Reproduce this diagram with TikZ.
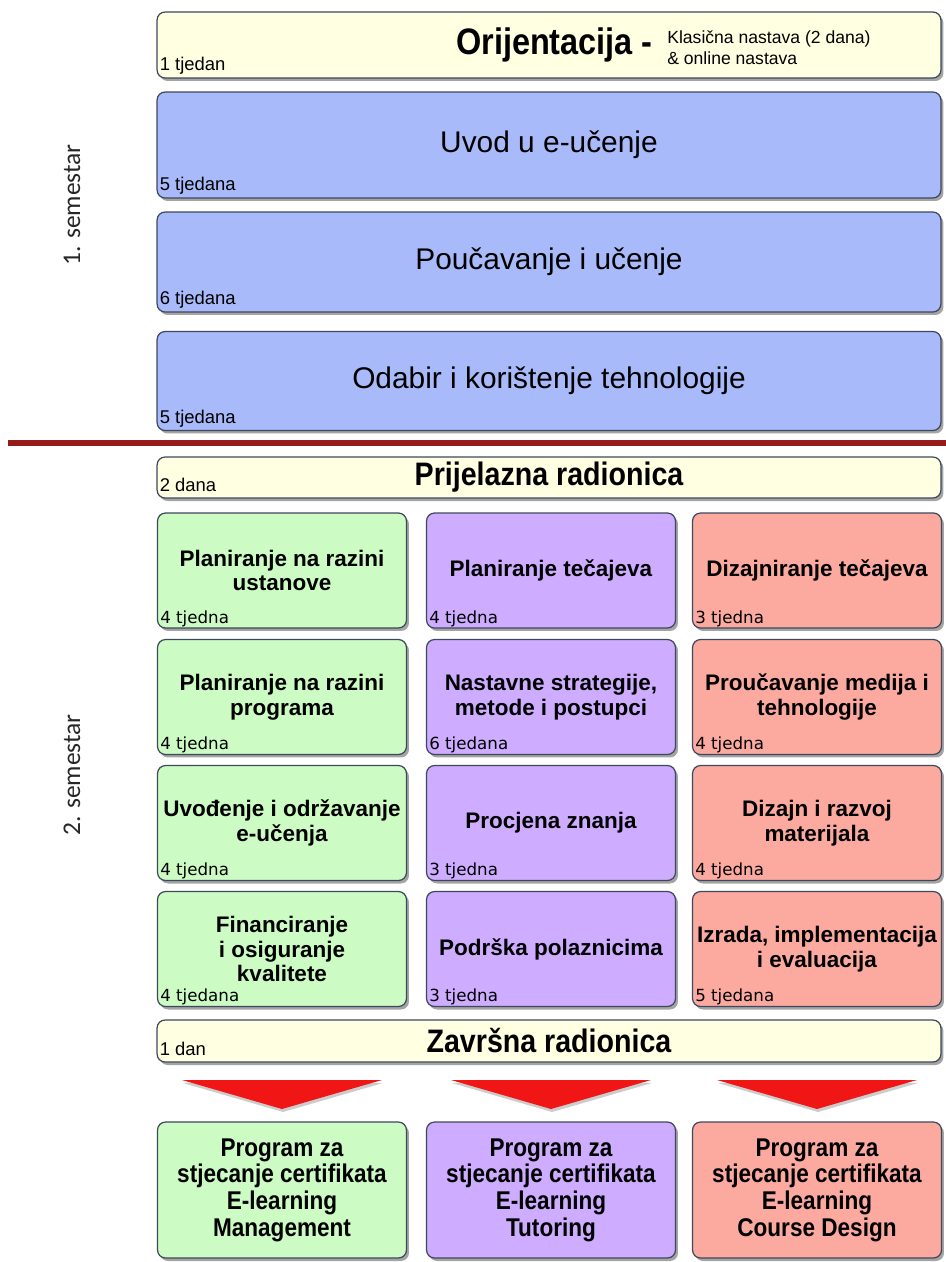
\documentclass[tikz,border=0pt]{standalone}
\usepackage{fontspec}
\setmainfont{Liberation Sans}
\newfontfamily\narrowfont[FakeStretch=0.88]{Liberation Sans}
\newfontfamily\tagfont{DejaVu Sans}
\newfontfamily\semfont{Carlito}
\usetikzlibrary{shadows}

\definecolor{cream}{RGB}{255,255,226}
\definecolor{bluebox}{RGB}{168,186,250}
\definecolor{greenbox}{RGB}{204,252,196}
\definecolor{violetbox}{RGB}{206,172,255}
\definecolor{salmonbox}{RGB}{252,170,160}
\definecolor{edge}{RGB}{62,72,92}
\definecolor{divider}{RGB}{150,28,28}
\definecolor{arrowred}{RGB}{240,22,22}

\begin{document}
\begin{tikzpicture}[x=0.02cm, y=-0.02cm]
    \useasboundingbox (0,0) rectangle (946,1262);
    \tikzstyle{box}=[draw=edge, line width=0.7pt, rounded corners=0.16cm, inner sep=2pt,
        drop shadow={shadow xshift=0.05cm, shadow yshift=-0.06cm, fill=black!65, opacity=0.55}]
    \tikzstyle{wide}=[style=box, minimum width=15.68cm, font=\fontsize{17}{20}\selectfont]
    \tikzstyle{cell}=[style=box, minimum width=4.98cm, minimum height=2.3cm, align=center,
        font=\bfseries\fontsize{12.8}{14}\selectfont]
    \tikzstyle{result}=[style=box, minimum width=4.98cm, minimum height=2.72cm, align=center,
        font=\narrowfont\bfseries\fontsize{14.6}{15.2}\selectfont]
    \tikzstyle{head}=[font=\narrowfont\bfseries\fontsize{18.5}{20}\selectfont]
    \tikzstyle{weeks}=[anchor=base west, inner sep=0pt, font=\fontsize{10.5}{12}\selectfont]
    \tikzstyle{cell weeks}=[anchor=base west, inner sep=0pt, font=\tagfont\fontsize{9.5}{11}\selectfont]
    \tikzstyle{semester}=[rotate=90, text=black!85, font=\semfont\fontsize{14.5}{16}\selectfont]
    \tikzstyle{divider line}=[draw=divider, line width=3.2pt]
    \tikzstyle{down arrow}=[fill=arrowred,
        drop shadow={shadow xshift=0.02cm, shadow yshift=-0.06cm, fill=black!50, opacity=0.4}]

    % 1. semestar
    \node [style=wide, fill=cream, minimum height=1.32cm] (1) at (549, 45) {};
    \node [style=wide, fill=bluebox, minimum height=2.12cm] (2) at (549, 145) {Uvod u e-učenje};
    \node [style=wide, fill=bluebox, minimum height=2.0cm] (3) at (549, 262) {Poučavanje i učenje};
    \node [style=wide, fill=bluebox, minimum height=1.98cm] (4) at (549, 381) {Odabir i korištenje tehnologije};

    \node [style=head, font=\narrowfont\bfseries\fontsize{21}{23}\selectfont, anchor=base east] (1t) at (659, 54) {Orijentacija -};
    \node [anchor=west, align=left, inner sep=0pt, font=\fontsize{10}{11}\selectfont] (1n) at (667, 48)
        {Klasična nastava (2 dana)\\[1pt]\& online nastava};

    \node [style=weeks] (1w) at ([xshift=0.06cm, yshift=0.16cm]1.south west) {1 tjedan};
    \node [style=weeks] (2w) at ([xshift=0.06cm, yshift=0.16cm]2.south west) {5 tjedana};
    \node [style=weeks] (3w) at ([xshift=0.06cm, yshift=0.16cm]3.south west) {6 tjedana};
    \node [style=weeks] (4w) at ([xshift=0.06cm, yshift=0.16cm]4.south west) {5 tjedana};

    \coordinate (l1) at (8, 443);
    \coordinate (l2) at (946, 443);
    \draw [style=divider line] (l1) -- (l2);

    % 2. semestar
    \node [style=wide, style=head, fill=cream, minimum height=0.82cm] (5) at (549, 477.5) {Prijelazna radionica};
    \node [style=weeks] (5w) at ([xshift=0.06cm, yshift=0.14cm]5.south west) {2 dana};

    \node [style=cell, fill=greenbox] (6) at (282, 570.5) {Planiranje na razini\\ustanove};
    \node [style=cell, fill=greenbox] (7) at (282, 697) {Planiranje na razini\\programa};
    \node [style=cell, fill=greenbox] (8) at (282, 823) {Uvođenje i održavanje\\e-učenja};
    \node [style=cell, fill=greenbox] (9) at (282, 949) {Financiranje\\i osiguranje\\kvalitete};

    \node [style=cell, fill=violetbox] (10) at (551, 570.5) {Planiranje tečajeva};
    \node [style=cell, fill=violetbox] (11) at (551, 697) {Nastavne strategije,\\metode i postupci};
    \node [style=cell, fill=violetbox] (12) at (551, 823) {Procjena znanja};
    \node [style=cell, fill=violetbox] (13) at (551, 949) {Podrška polaznicima};

    \node [style=cell, fill=salmonbox] (14) at (817, 570.5) {Dizajniranje tečajeva};
    \node [style=cell, fill=salmonbox] (15) at (817, 697) {Proučavanje medija i\\tehnologije};
    \node [style=cell, fill=salmonbox] (16) at (817, 823) {Dizajn i razvoj\\materijala};
    \node [style=cell, fill=salmonbox] (17) at (817, 949) {Izrada, implementacija\\i evaluacija};

    \foreach \n/\t in {6/4 tjedna, 7/4 tjedna, 8/4 tjedna, 9/4 tjedana,
                       10/4 tjedna, 11/6 tjedana, 12/3 tjedna, 13/3 tjedna,
                       14/3 tjedna, 15/4 tjedna, 16/4 tjedna, 17/5 tjedana}
        \node [style=cell weeks] (\n w) at ([xshift=0.06cm, yshift=0.11cm]\n.south west) {\t};

    \node [style=wide, style=head, fill=cream, minimum height=0.84cm] (18) at (549, 1041) {Završna radionica};
    \node [style=weeks] (18w) at ([xshift=0.06cm, yshift=0.14cm]18.south west) {1 dan};

    \foreach \c in {282, 551, 817}
        \fill [style=down arrow] ({\c-100}, 1080) -- ({\c+100}, 1080) -- (\c, 1109) -- cycle;

    \node [style=result, fill=greenbox] (19) at (282, 1190) {Program za\\stjecanje certifikata\\E-learning\\Management};
    \node [style=result, fill=violetbox] (20) at (551, 1190) {Program za\\stjecanje certifikata\\E-learning\\Tutoring};
    \node [style=result, fill=salmonbox] (21) at (817, 1190) {Program za\\stjecanje certifikata\\E-learning\\Course Design};

    \node [style=semester] (22) at (72, 205) {1. semestar};
    \node [style=semester] (23) at (72, 775) {2. semestar};
\end{tikzpicture}
\end{document}
